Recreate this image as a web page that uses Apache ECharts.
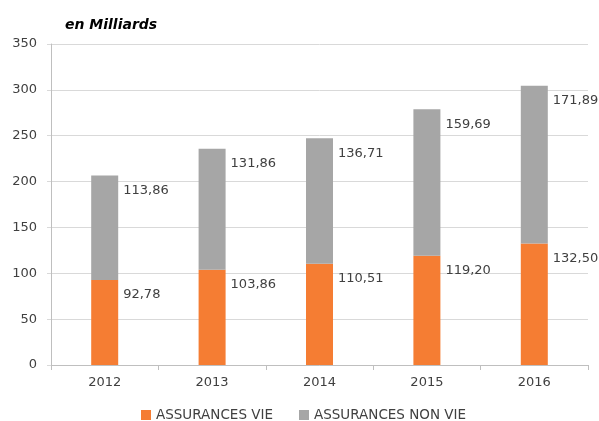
<!DOCTYPE html>
<html>
<head>
<meta charset="utf-8">
<script src="https://cdn.jsdelivr.net/npm/echarts@6/dist/echarts.min.js"></script>
<style>html,body{margin:0;padding:0;background:#fff;}#c{width:599px;height:421px;}</style>
</head>
<body>
<div id="c"></div>
<script>
var categories = ['2012', '2013', '2014', '2015', '2016'];
var assurancesVie = [92.78, 103.86, 110.51, 119.20, 132.50];
var assurancesNonVie = [113.86, 131.86, 136.71, 159.69, 171.89];
var seriesNames = ['ASSURANCES VIE', 'ASSURANCES NON VIE'];
var titleText = 'en Milliards';

var FONT = 'DejaVu Sans';
var TXT = '#404040';
function fmt(p) { return p.value.toFixed(2).replace('.', ','); }
var labelCfg = {
  show: true,
  position: ['100%', 15],
  align: 'left',
  verticalAlign: 'middle',
  offset: [5, 0],
  color: TXT,
  fontFamily: FONT,
  fontSize: 13,
  formatter: fmt
};

var chart = echarts.init(document.getElementById('c'), null, { renderer: 'canvas' });
chart.setOption({
  animation: false,
  backgroundColor: '#ffffff',
  title: {
    text: titleText,
    left: 60,
    top: 13,
    textStyle: { fontFamily: FONT, fontSize: 14, fontWeight: 'bold', fontStyle: 'italic', color: '#000000' }
  },
  legend: {
    left: 141,
    top: 408,
    padding: 0,
    itemWidth: 10,
    itemHeight: 10,
    itemGap: 26,
    icon: 'rect',
    textStyle: { fontFamily: FONT, fontSize: 13.5, color: TXT },
    data: seriesNames
  },
  grid: { left: 51, right: 11, top: 44, bottom: 56, containLabel: false },
  xAxis: {
    type: 'category',
    data: categories,
    axisLine: { lineStyle: { color: '#bfbfbf', width: 1 } },
    axisTick: { show: true, length: 5, lineStyle: { color: '#bfbfbf' } },
    axisLabel: { color: TXT, fontFamily: FONT, fontSize: 13, margin: 11 }
  },
  yAxis: {
    type: 'value',
    min: 0,
    max: 350,
    interval: 50,
    axisLine: { show: true, lineStyle: { color: '#bfbfbf', width: 1 } },
    axisTick: { show: true, length: 4, lineStyle: { color: '#d9d9d9' } },
    splitLine: { lineStyle: { color: '#d9d9d9', width: 1 } },
    axisLabel: { color: TXT, fontFamily: FONT, fontSize: 13, margin: 14 }
  },
  series: [
    {
      name: seriesNames[0],
      type: 'bar',
      stack: 'total',
      barWidth: 27,
      data: assurancesVie,
      itemStyle: { color: '#F57D33' },
      label: labelCfg
    },
    {
      name: seriesNames[1],
      type: 'bar',
      stack: 'total',
      barWidth: 27,
      data: assurancesNonVie,
      itemStyle: { color: '#A6A6A6' },
      label: labelCfg
    }
  ]
});
</script>
</body>
</html>
